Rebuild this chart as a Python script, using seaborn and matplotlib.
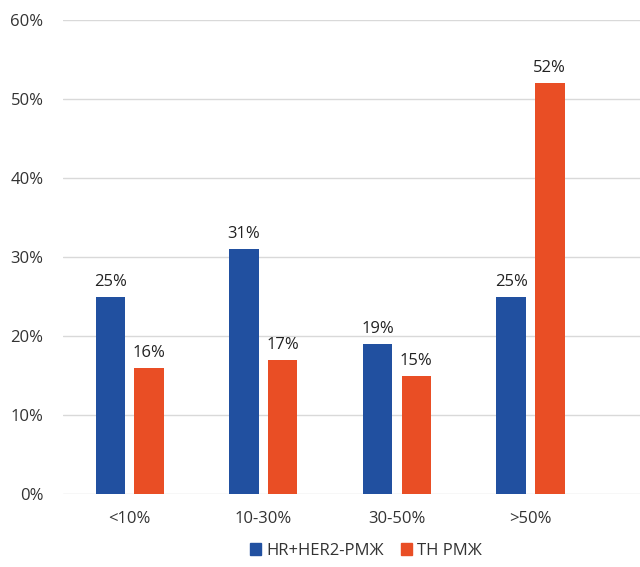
import matplotlib
matplotlib.use("Agg")
import matplotlib.pyplot as plt
import matplotlib.ticker as mticker
from matplotlib.patches import Patch
import seaborn as sns
import pandas as pd

categories = ["<10%", "10-30%", "30-50%", ">50%"]
series_names = ["HR+HER2-РМЖ", "ТН РМЖ"]
hr_values = [25, 31, 19, 25]
tn_values = [16, 17, 15, 52]
colors = ["#2150a0", "#e94e25"]

df = pd.DataFrame({
    "cat": categories * 2,
    "group": [series_names[0]] * 4 + [series_names[1]] * 4,
    "value": hr_values + tn_values,
})

sns.set_theme(style="white")
plt.rcParams["font.family"] = ["Open Sans", "DejaVu Sans"]

fig = plt.figure(figsize=(6.4, 5.67), dpi=100)
ax = fig.add_axes([0.0984, 0.1287, 0.9016, 0.836])

sns.barplot(data=df, x="cat", y="value", hue="group", order=categories,
            hue_order=series_names, palette=colors, width=0.58, gap=0.24,
            legend=False, ax=ax, saturation=1, linewidth=0)

ax.set_ylim(0, 60)
ax.set_xlim(-0.5, 3.82)
ax.yaxis.set_major_locator(mticker.MultipleLocator(10))
ax.yaxis.set_major_formatter(mticker.FuncFormatter(lambda v, p: f"{int(v)}%"))
ax.grid(axis="y", color="#d9d9d9", linewidth=1)
ax.set_axisbelow(True)
for s in ax.spines.values():
    s.set_visible(False)
ax.set_xlabel("")
ax.set_ylabel("")
ax.tick_params(axis="both", length=0, labelsize=12, labelcolor="#333333")
ax.tick_params(axis="y", pad=14)
ax.tick_params(axis="x", pad=12)

for container in ax.containers:
    ax.bar_label(container, labels=[f"{int(v)}%" for v in container.datavalues],
                 padding=5, fontsize=12, color="#222222")

handles = [Patch(color=c, label=n) for c, n in zip(colors, series_names)]
fig.legend(handles=handles, loc="center", bbox_to_anchor=(366 / 640, 1 - 551 / 567),
           ncol=2, frameon=False, fontsize=12, handlelength=0.7, handleheight=0.7,
           handletextpad=0.3, columnspacing=1.0, labelcolor="#333333")

fig.savefig("out.png", dpi=100)
